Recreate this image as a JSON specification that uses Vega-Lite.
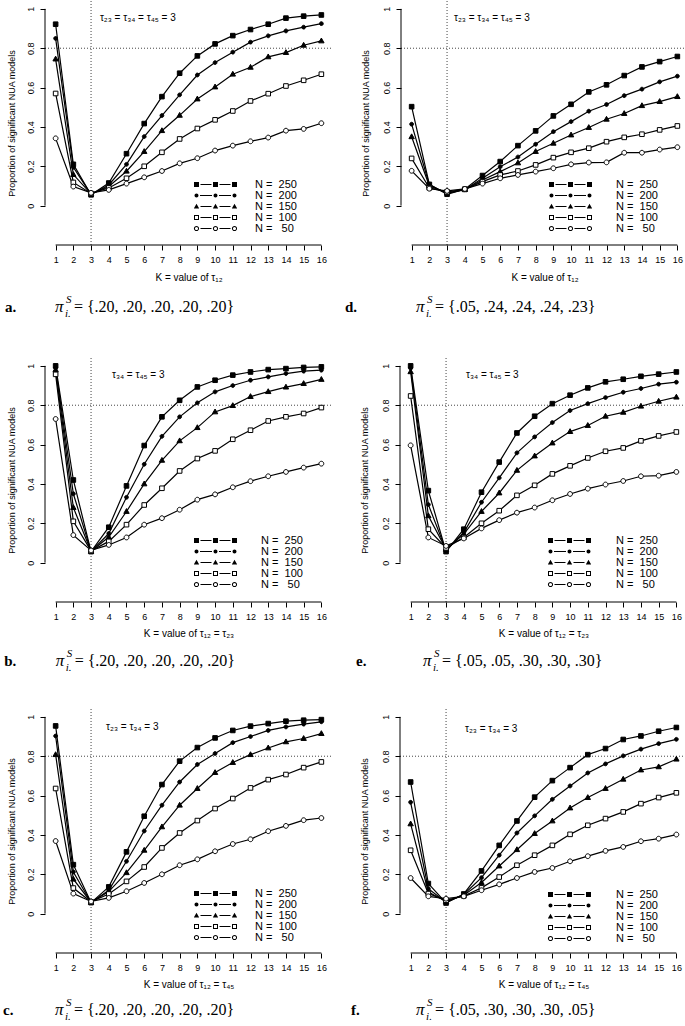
{
"$schema": "https://vega.github.io/schema/vega-lite/v6.json",
"background": "white",
"padding": {"left": 3, "top": 0, "right": 0, "bottom": 0},
"config": {
  "view": {"stroke": null},
  "font": "Liberation Sans",
  "text": {"color": "black"},
  "axis": {"domain": false, "grid": false, "ticks": true, "tickColor": "black", "tickSize": 5, "tickWidth": 1, "labelFont": "Liberation Sans", "labelFontSize": 9, "labelColor": "black", "labelPadding": 5, "titleFont": "Liberation Sans", "titleFontSize": 10, "titleFontWeight": "normal", "titleColor": "black", "labelFlush": false, "labelOverlap": false, "labelBound": false},
  "axisY": {"labelAngle": -90, "labelAlign": "center", "labelBaseline": "bottom", "titleFontSize": 9},
  "legend": {"padding": 0, "offset": 0, "symbolStrokeWidth": 0, "symbolSize": 4, "labelFont": "Liberation Sans", "labelFontSize": 11, "labelColor": "black", "rowPadding": -3, "labelLimit": 0, "title": null}
},
"datasets": {"d": [
{"g":"a","N":250,"K":1,"p":0.922},{"g":"a","N":250,"K":2,"p":0.21},{"g":"a","N":250,"K":3,"p":0.055},{"g":"a","N":250,"K":4,"p":0.115},{"g":"a","N":250,"K":5,"p":0.264},{"g":"a","N":250,"K":6,"p":0.417},{"g":"a","N":250,"K":7,"p":0.554},{"g":"a","N":250,"K":8,"p":0.673},{"g":"a","N":250,"K":9,"p":0.761},{"g":"a","N":250,"K":10,"p":0.822},{"g":"a","N":250,"K":11,"p":0.864},{"g":"a","N":250,"K":12,"p":0.895},{"g":"a","N":250,"K":13,"p":0.922},{"g":"a","N":250,"K":14,"p":0.953},{"g":"a","N":250,"K":15,"p":0.963},{"g":"a","N":250,"K":16,"p":0.969},
{"g":"a","N":200,"K":1,"p":0.85},{"g":"a","N":200,"K":2,"p":0.195},{"g":"a","N":200,"K":3,"p":0.057},{"g":"a","N":200,"K":4,"p":0.105},{"g":"a","N":200,"K":5,"p":0.21},{"g":"a","N":200,"K":6,"p":0.351},{"g":"a","N":200,"K":7,"p":0.458},{"g":"a","N":200,"K":8,"p":0.563},{"g":"a","N":200,"K":9,"p":0.664},{"g":"a","N":200,"K":10,"p":0.727},{"g":"a","N":200,"K":11,"p":0.78},{"g":"a","N":200,"K":12,"p":0.831},{"g":"a","N":200,"K":13,"p":0.863},{"g":"a","N":200,"K":14,"p":0.888},{"g":"a","N":200,"K":15,"p":0.907},{"g":"a","N":200,"K":16,"p":0.925},
{"g":"a","N":150,"K":1,"p":0.745},{"g":"a","N":150,"K":2,"p":0.158},{"g":"a","N":150,"K":3,"p":0.06},{"g":"a","N":150,"K":4,"p":0.097},{"g":"a","N":150,"K":5,"p":0.175},{"g":"a","N":150,"K":6,"p":0.275},{"g":"a","N":150,"K":7,"p":0.381},{"g":"a","N":150,"K":8,"p":0.459},{"g":"a","N":150,"K":9,"p":0.542},{"g":"a","N":150,"K":10,"p":0.603},{"g":"a","N":150,"K":11,"p":0.668},{"g":"a","N":150,"K":12,"p":0.703},{"g":"a","N":150,"K":13,"p":0.756},{"g":"a","N":150,"K":14,"p":0.778},{"g":"a","N":150,"K":15,"p":0.815},{"g":"a","N":150,"K":16,"p":0.837},
{"g":"a","N":100,"K":1,"p":0.57},{"g":"a","N":100,"K":2,"p":0.118},{"g":"a","N":100,"K":3,"p":0.062},{"g":"a","N":100,"K":4,"p":0.09},{"g":"a","N":100,"K":5,"p":0.139},{"g":"a","N":100,"K":6,"p":0.2},{"g":"a","N":100,"K":7,"p":0.271},{"g":"a","N":100,"K":8,"p":0.339},{"g":"a","N":100,"K":9,"p":0.392},{"g":"a","N":100,"K":10,"p":0.436},{"g":"a","N":100,"K":11,"p":0.481},{"g":"a","N":100,"K":12,"p":0.532},{"g":"a","N":100,"K":13,"p":0.569},{"g":"a","N":100,"K":14,"p":0.608},{"g":"a","N":100,"K":15,"p":0.637},{"g":"a","N":100,"K":16,"p":0.668},
{"g":"a","N":50,"K":1,"p":0.342},{"g":"a","N":50,"K":2,"p":0.097},{"g":"a","N":50,"K":3,"p":0.065},{"g":"a","N":50,"K":4,"p":0.08},{"g":"a","N":50,"K":5,"p":0.112},{"g":"a","N":50,"K":6,"p":0.144},{"g":"a","N":50,"K":7,"p":0.176},{"g":"a","N":50,"K":8,"p":0.215},{"g":"a","N":50,"K":9,"p":0.241},{"g":"a","N":50,"K":10,"p":0.28},{"g":"a","N":50,"K":11,"p":0.305},{"g":"a","N":50,"K":12,"p":0.327},{"g":"a","N":50,"K":13,"p":0.346},{"g":"a","N":50,"K":14,"p":0.381},{"g":"a","N":50,"K":15,"p":0.39},{"g":"a","N":50,"K":16,"p":0.419},
{"g":"d","N":250,"K":1,"p":0.503},{"g":"d","N":250,"K":2,"p":0.108},{"g":"d","N":250,"K":3,"p":0.058},{"g":"d","N":250,"K":4,"p":0.083},{"g":"d","N":250,"K":5,"p":0.153},{"g":"d","N":250,"K":6,"p":0.224},{"g":"d","N":250,"K":7,"p":0.305},{"g":"d","N":250,"K":8,"p":0.38},{"g":"d","N":250,"K":9,"p":0.456},{"g":"d","N":250,"K":10,"p":0.515},{"g":"d","N":250,"K":11,"p":0.578},{"g":"d","N":250,"K":12,"p":0.614},{"g":"d","N":250,"K":13,"p":0.661},{"g":"d","N":250,"K":14,"p":0.705},{"g":"d","N":250,"K":15,"p":0.732},{"g":"d","N":250,"K":16,"p":0.758},
{"g":"d","N":200,"K":1,"p":0.414},{"g":"d","N":200,"K":2,"p":0.106},{"g":"d","N":200,"K":3,"p":0.062},{"g":"d","N":200,"K":4,"p":0.081},{"g":"d","N":200,"K":5,"p":0.139},{"g":"d","N":200,"K":6,"p":0.198},{"g":"d","N":200,"K":7,"p":0.247},{"g":"d","N":200,"K":8,"p":0.312},{"g":"d","N":200,"K":9,"p":0.376},{"g":"d","N":200,"K":10,"p":0.427},{"g":"d","N":200,"K":11,"p":0.48},{"g":"d","N":200,"K":12,"p":0.514},{"g":"d","N":200,"K":13,"p":0.559},{"g":"d","N":200,"K":14,"p":0.592},{"g":"d","N":200,"K":15,"p":0.629},{"g":"d","N":200,"K":16,"p":0.658},
{"g":"d","N":150,"K":1,"p":0.35},{"g":"d","N":150,"K":2,"p":0.1},{"g":"d","N":150,"K":3,"p":0.065},{"g":"d","N":150,"K":4,"p":0.082},{"g":"d","N":150,"K":5,"p":0.13},{"g":"d","N":150,"K":6,"p":0.173},{"g":"d","N":150,"K":7,"p":0.217},{"g":"d","N":150,"K":8,"p":0.275},{"g":"d","N":150,"K":9,"p":0.317},{"g":"d","N":150,"K":10,"p":0.359},{"g":"d","N":150,"K":11,"p":0.397},{"g":"d","N":150,"K":12,"p":0.439},{"g":"d","N":150,"K":13,"p":0.468},{"g":"d","N":150,"K":14,"p":0.508},{"g":"d","N":150,"K":15,"p":0.529},{"g":"d","N":150,"K":16,"p":0.554},
{"g":"d","N":100,"K":1,"p":0.24},{"g":"d","N":100,"K":2,"p":0.09},{"g":"d","N":100,"K":3,"p":0.07},{"g":"d","N":100,"K":4,"p":0.083},{"g":"d","N":100,"K":5,"p":0.122},{"g":"d","N":100,"K":6,"p":0.156},{"g":"d","N":100,"K":7,"p":0.176},{"g":"d","N":100,"K":8,"p":0.207},{"g":"d","N":100,"K":9,"p":0.244},{"g":"d","N":100,"K":10,"p":0.271},{"g":"d","N":100,"K":11,"p":0.292},{"g":"d","N":100,"K":12,"p":0.325},{"g":"d","N":100,"K":13,"p":0.347},{"g":"d","N":100,"K":14,"p":0.363},{"g":"d","N":100,"K":15,"p":0.385},{"g":"d","N":100,"K":16,"p":0.405},
{"g":"d","N":50,"K":1,"p":0.177},{"g":"d","N":50,"K":2,"p":0.086},{"g":"d","N":50,"K":3,"p":0.075},{"g":"d","N":50,"K":4,"p":0.085},{"g":"d","N":50,"K":5,"p":0.112},{"g":"d","N":50,"K":6,"p":0.139},{"g":"d","N":50,"K":7,"p":0.156},{"g":"d","N":50,"K":8,"p":0.173},{"g":"d","N":50,"K":9,"p":0.19},{"g":"d","N":50,"K":10,"p":0.21},{"g":"d","N":50,"K":11,"p":0.219},{"g":"d","N":50,"K":12,"p":0.22},{"g":"d","N":50,"K":13,"p":0.269},{"g":"d","N":50,"K":14,"p":0.269},{"g":"d","N":50,"K":15,"p":0.285},{"g":"d","N":50,"K":16,"p":0.297},
{"g":"b","N":250,"K":1,"p":1.0},{"g":"b","N":250,"K":2,"p":0.42},{"g":"b","N":250,"K":3,"p":0.056},{"g":"b","N":250,"K":4,"p":0.18},{"g":"b","N":250,"K":5,"p":0.39},{"g":"b","N":250,"K":6,"p":0.595},{"g":"b","N":250,"K":7,"p":0.741},{"g":"b","N":250,"K":8,"p":0.825},{"g":"b","N":250,"K":9,"p":0.893},{"g":"b","N":250,"K":10,"p":0.927},{"g":"b","N":250,"K":11,"p":0.953},{"g":"b","N":250,"K":12,"p":0.969},{"g":"b","N":250,"K":13,"p":0.981},{"g":"b","N":250,"K":14,"p":0.986},{"g":"b","N":250,"K":15,"p":0.992},{"g":"b","N":250,"K":16,"p":0.995},
{"g":"b","N":200,"K":1,"p":0.99},{"g":"b","N":200,"K":2,"p":0.35},{"g":"b","N":200,"K":3,"p":0.057},{"g":"b","N":200,"K":4,"p":0.148},{"g":"b","N":200,"K":5,"p":0.332},{"g":"b","N":200,"K":6,"p":0.5},{"g":"b","N":200,"K":7,"p":0.642},{"g":"b","N":200,"K":8,"p":0.741},{"g":"b","N":200,"K":9,"p":0.812},{"g":"b","N":200,"K":10,"p":0.868},{"g":"b","N":200,"K":11,"p":0.9},{"g":"b","N":200,"K":12,"p":0.927},{"g":"b","N":200,"K":13,"p":0.944},{"g":"b","N":200,"K":14,"p":0.961},{"g":"b","N":200,"K":15,"p":0.973},{"g":"b","N":200,"K":16,"p":0.978},
{"g":"b","N":150,"K":1,"p":0.98},{"g":"b","N":150,"K":2,"p":0.28},{"g":"b","N":150,"K":3,"p":0.058},{"g":"b","N":150,"K":4,"p":0.13},{"g":"b","N":150,"K":5,"p":0.26},{"g":"b","N":150,"K":6,"p":0.4},{"g":"b","N":150,"K":7,"p":0.52},{"g":"b","N":150,"K":8,"p":0.619},{"g":"b","N":150,"K":9,"p":0.686},{"g":"b","N":150,"K":10,"p":0.766},{"g":"b","N":150,"K":11,"p":0.798},{"g":"b","N":150,"K":12,"p":0.844},{"g":"b","N":150,"K":13,"p":0.869},{"g":"b","N":150,"K":14,"p":0.892},{"g":"b","N":150,"K":15,"p":0.91},{"g":"b","N":150,"K":16,"p":0.931},
{"g":"b","N":100,"K":1,"p":0.957},{"g":"b","N":100,"K":2,"p":0.21},{"g":"b","N":100,"K":3,"p":0.06},{"g":"b","N":100,"K":4,"p":0.108},{"g":"b","N":100,"K":5,"p":0.193},{"g":"b","N":100,"K":6,"p":0.293},{"g":"b","N":100,"K":7,"p":0.378},{"g":"b","N":100,"K":8,"p":0.466},{"g":"b","N":100,"K":9,"p":0.529},{"g":"b","N":100,"K":10,"p":0.568},{"g":"b","N":100,"K":11,"p":0.627},{"g":"b","N":100,"K":12,"p":0.673},{"g":"b","N":100,"K":13,"p":0.72},{"g":"b","N":100,"K":14,"p":0.741},{"g":"b","N":100,"K":15,"p":0.758},{"g":"b","N":100,"K":16,"p":0.788},
{"g":"b","N":50,"K":1,"p":0.73},{"g":"b","N":50,"K":2,"p":0.14},{"g":"b","N":50,"K":3,"p":0.062},{"g":"b","N":50,"K":4,"p":0.09},{"g":"b","N":50,"K":5,"p":0.128},{"g":"b","N":50,"K":6,"p":0.193},{"g":"b","N":50,"K":7,"p":0.226},{"g":"b","N":50,"K":8,"p":0.269},{"g":"b","N":50,"K":9,"p":0.32},{"g":"b","N":50,"K":10,"p":0.347},{"g":"b","N":50,"K":11,"p":0.383},{"g":"b","N":50,"K":12,"p":0.414},{"g":"b","N":50,"K":13,"p":0.439},{"g":"b","N":50,"K":14,"p":0.461},{"g":"b","N":50,"K":15,"p":0.483},{"g":"b","N":50,"K":16,"p":0.503},
{"g":"e","N":250,"K":1,"p":1.0},{"g":"e","N":250,"K":2,"p":0.366},{"g":"e","N":250,"K":3,"p":0.056},{"g":"e","N":250,"K":4,"p":0.17},{"g":"e","N":250,"K":5,"p":0.358},{"g":"e","N":250,"K":6,"p":0.511},{"g":"e","N":250,"K":7,"p":0.659},{"g":"e","N":250,"K":8,"p":0.744},{"g":"e","N":250,"K":9,"p":0.808},{"g":"e","N":250,"K":10,"p":0.851},{"g":"e","N":250,"K":11,"p":0.888},{"g":"e","N":250,"K":12,"p":0.919},{"g":"e","N":250,"K":13,"p":0.932},{"g":"e","N":250,"K":14,"p":0.947},{"g":"e","N":250,"K":15,"p":0.958},{"g":"e","N":250,"K":16,"p":0.969},
{"g":"e","N":200,"K":1,"p":0.988},{"g":"e","N":200,"K":2,"p":0.295},{"g":"e","N":200,"K":3,"p":0.062},{"g":"e","N":200,"K":4,"p":0.153},{"g":"e","N":200,"K":5,"p":0.307},{"g":"e","N":200,"K":6,"p":0.431},{"g":"e","N":200,"K":7,"p":0.558},{"g":"e","N":200,"K":8,"p":0.639},{"g":"e","N":200,"K":9,"p":0.712},{"g":"e","N":200,"K":10,"p":0.773},{"g":"e","N":200,"K":11,"p":0.808},{"g":"e","N":200,"K":12,"p":0.839},{"g":"e","N":200,"K":13,"p":0.866},{"g":"e","N":200,"K":14,"p":0.885},{"g":"e","N":200,"K":15,"p":0.907},{"g":"e","N":200,"K":16,"p":0.917},
{"g":"e","N":150,"K":1,"p":0.97},{"g":"e","N":150,"K":2,"p":0.238},{"g":"e","N":150,"K":3,"p":0.068},{"g":"e","N":150,"K":4,"p":0.145},{"g":"e","N":150,"K":5,"p":0.26},{"g":"e","N":150,"K":6,"p":0.354},{"g":"e","N":150,"K":7,"p":0.469},{"g":"e","N":150,"K":8,"p":0.542},{"g":"e","N":150,"K":9,"p":0.608},{"g":"e","N":150,"K":10,"p":0.666},{"g":"e","N":150,"K":11,"p":0.697},{"g":"e","N":150,"K":12,"p":0.744},{"g":"e","N":150,"K":13,"p":0.764},{"g":"e","N":150,"K":14,"p":0.795},{"g":"e","N":150,"K":15,"p":0.82},{"g":"e","N":150,"K":16,"p":0.841},
{"g":"e","N":100,"K":1,"p":0.847},{"g":"e","N":100,"K":2,"p":0.17},{"g":"e","N":100,"K":3,"p":0.075},{"g":"e","N":100,"K":4,"p":0.128},{"g":"e","N":100,"K":5,"p":0.2},{"g":"e","N":100,"K":6,"p":0.264},{"g":"e","N":100,"K":7,"p":0.342},{"g":"e","N":100,"K":8,"p":0.393},{"g":"e","N":100,"K":9,"p":0.451},{"g":"e","N":100,"K":10,"p":0.492},{"g":"e","N":100,"K":11,"p":0.532},{"g":"e","N":100,"K":12,"p":0.566},{"g":"e","N":100,"K":13,"p":0.583},{"g":"e","N":100,"K":14,"p":0.619},{"g":"e","N":100,"K":15,"p":0.644},{"g":"e","N":100,"K":16,"p":0.664},
{"g":"e","N":50,"K":1,"p":0.596},{"g":"e","N":50,"K":2,"p":0.128},{"g":"e","N":50,"K":3,"p":0.085},{"g":"e","N":50,"K":4,"p":0.123},{"g":"e","N":50,"K":5,"p":0.174},{"g":"e","N":50,"K":6,"p":0.216},{"g":"e","N":50,"K":7,"p":0.254},{"g":"e","N":50,"K":8,"p":0.28},{"g":"e","N":50,"K":9,"p":0.317},{"g":"e","N":50,"K":10,"p":0.349},{"g":"e","N":50,"K":11,"p":0.376},{"g":"e","N":50,"K":12,"p":0.397},{"g":"e","N":50,"K":13,"p":0.415},{"g":"e","N":50,"K":14,"p":0.439},{"g":"e","N":50,"K":15,"p":0.442},{"g":"e","N":50,"K":16,"p":0.461},
{"g":"c","N":250,"K":1,"p":0.954},{"g":"c","N":250,"K":2,"p":0.249},{"g":"c","N":250,"K":3,"p":0.056},{"g":"c","N":250,"K":4,"p":0.136},{"g":"c","N":250,"K":5,"p":0.314},{"g":"c","N":250,"K":6,"p":0.495},{"g":"c","N":250,"K":7,"p":0.656},{"g":"c","N":250,"K":8,"p":0.775},{"g":"c","N":250,"K":9,"p":0.844},{"g":"c","N":250,"K":10,"p":0.893},{"g":"c","N":250,"K":11,"p":0.931},{"g":"c","N":250,"K":12,"p":0.953},{"g":"c","N":250,"K":13,"p":0.966},{"g":"c","N":250,"K":14,"p":0.978},{"g":"c","N":250,"K":15,"p":0.983},{"g":"c","N":250,"K":16,"p":0.986},
{"g":"c","N":200,"K":1,"p":0.903},{"g":"c","N":200,"K":2,"p":0.212},{"g":"c","N":200,"K":3,"p":0.057},{"g":"c","N":200,"K":4,"p":0.119},{"g":"c","N":200,"K":5,"p":0.266},{"g":"c","N":200,"K":6,"p":0.42},{"g":"c","N":200,"K":7,"p":0.551},{"g":"c","N":200,"K":8,"p":0.669},{"g":"c","N":200,"K":9,"p":0.758},{"g":"c","N":200,"K":10,"p":0.814},{"g":"c","N":200,"K":11,"p":0.869},{"g":"c","N":200,"K":12,"p":0.9},{"g":"c","N":200,"K":13,"p":0.931},{"g":"c","N":200,"K":14,"p":0.949},{"g":"c","N":200,"K":15,"p":0.963},{"g":"c","N":200,"K":16,"p":0.975},
{"g":"c","N":150,"K":1,"p":0.808},{"g":"c","N":150,"K":2,"p":0.175},{"g":"c","N":150,"K":3,"p":0.058},{"g":"c","N":150,"K":4,"p":0.112},{"g":"c","N":150,"K":5,"p":0.208},{"g":"c","N":150,"K":6,"p":0.322},{"g":"c","N":150,"K":7,"p":0.441},{"g":"c","N":150,"K":8,"p":0.551},{"g":"c","N":150,"K":9,"p":0.636},{"g":"c","N":150,"K":10,"p":0.717},{"g":"c","N":150,"K":11,"p":0.768},{"g":"c","N":150,"K":12,"p":0.808},{"g":"c","N":150,"K":13,"p":0.842},{"g":"c","N":150,"K":14,"p":0.873},{"g":"c","N":150,"K":15,"p":0.89},{"g":"c","N":150,"K":16,"p":0.915},
{"g":"c","N":100,"K":1,"p":0.636},{"g":"c","N":100,"K":2,"p":0.13},{"g":"c","N":100,"K":3,"p":0.06},{"g":"c","N":100,"K":4,"p":0.1},{"g":"c","N":100,"K":5,"p":0.164},{"g":"c","N":100,"K":6,"p":0.237},{"g":"c","N":100,"K":7,"p":0.334},{"g":"c","N":100,"K":8,"p":0.41},{"g":"c","N":100,"K":9,"p":0.473},{"g":"c","N":100,"K":10,"p":0.534},{"g":"c","N":100,"K":11,"p":0.585},{"g":"c","N":100,"K":12,"p":0.639},{"g":"c","N":100,"K":13,"p":0.681},{"g":"c","N":100,"K":14,"p":0.707},{"g":"c","N":100,"K":15,"p":0.742},{"g":"c","N":100,"K":16,"p":0.771},
{"g":"c","N":50,"K":1,"p":0.369},{"g":"c","N":50,"K":2,"p":0.102},{"g":"c","N":50,"K":3,"p":0.062},{"g":"c","N":50,"K":4,"p":0.08},{"g":"c","N":50,"K":5,"p":0.114},{"g":"c","N":50,"K":6,"p":0.156},{"g":"c","N":50,"K":7,"p":0.2},{"g":"c","N":50,"K":8,"p":0.246},{"g":"c","N":50,"K":9,"p":0.276},{"g":"c","N":50,"K":10,"p":0.317},{"g":"c","N":50,"K":11,"p":0.354},{"g":"c","N":50,"K":12,"p":0.378},{"g":"c","N":50,"K":13,"p":0.419},{"g":"c","N":50,"K":14,"p":0.446},{"g":"c","N":50,"K":15,"p":0.475},{"g":"c","N":50,"K":16,"p":0.486},
{"g":"f","N":250,"K":1,"p":0.669},{"g":"f","N":250,"K":2,"p":0.153},{"g":"f","N":250,"K":3,"p":0.054},{"g":"f","N":250,"K":4,"p":0.1},{"g":"f","N":250,"K":5,"p":0.217},{"g":"f","N":250,"K":6,"p":0.347},{"g":"f","N":250,"K":7,"p":0.471},{"g":"f","N":250,"K":8,"p":0.592},{"g":"f","N":250,"K":9,"p":0.676},{"g":"f","N":250,"K":10,"p":0.742},{"g":"f","N":250,"K":11,"p":0.808},{"g":"f","N":250,"K":12,"p":0.839},{"g":"f","N":250,"K":13,"p":0.885},{"g":"f","N":250,"K":14,"p":0.903},{"g":"f","N":250,"K":15,"p":0.927},{"g":"f","N":250,"K":16,"p":0.946},
{"g":"f","N":200,"K":1,"p":0.566},{"g":"f","N":200,"K":2,"p":0.127},{"g":"f","N":200,"K":3,"p":0.058},{"g":"f","N":200,"K":4,"p":0.097},{"g":"f","N":200,"K":5,"p":0.183},{"g":"f","N":200,"K":6,"p":0.297},{"g":"f","N":200,"K":7,"p":0.41},{"g":"f","N":200,"K":8,"p":0.497},{"g":"f","N":200,"K":9,"p":0.581},{"g":"f","N":200,"K":10,"p":0.649},{"g":"f","N":200,"K":11,"p":0.715},{"g":"f","N":200,"K":12,"p":0.761},{"g":"f","N":200,"K":13,"p":0.802},{"g":"f","N":200,"K":14,"p":0.836},{"g":"f","N":200,"K":15,"p":0.864},{"g":"f","N":200,"K":16,"p":0.886},
{"g":"f","N":150,"K":1,"p":0.456},{"g":"f","N":150,"K":2,"p":0.11},{"g":"f","N":150,"K":3,"p":0.062},{"g":"f","N":150,"K":4,"p":0.094},{"g":"f","N":150,"K":5,"p":0.158},{"g":"f","N":150,"K":6,"p":0.242},{"g":"f","N":150,"K":7,"p":0.325},{"g":"f","N":150,"K":8,"p":0.407},{"g":"f","N":150,"K":9,"p":0.471},{"g":"f","N":150,"K":10,"p":0.537},{"g":"f","N":150,"K":11,"p":0.59},{"g":"f","N":150,"K":12,"p":0.636},{"g":"f","N":150,"K":13,"p":0.683},{"g":"f","N":150,"K":14,"p":0.73},{"g":"f","N":150,"K":15,"p":0.746},{"g":"f","N":150,"K":16,"p":0.785},
{"g":"f","N":100,"K":1,"p":0.322},{"g":"f","N":100,"K":2,"p":0.102},{"g":"f","N":100,"K":3,"p":0.068},{"g":"f","N":100,"K":4,"p":0.09},{"g":"f","N":100,"K":5,"p":0.131},{"g":"f","N":100,"K":6,"p":0.186},{"g":"f","N":100,"K":7,"p":0.246},{"g":"f","N":100,"K":8,"p":0.297},{"g":"f","N":100,"K":9,"p":0.347},{"g":"f","N":100,"K":10,"p":0.403},{"g":"f","N":100,"K":11,"p":0.449},{"g":"f","N":100,"K":12,"p":0.483},{"g":"f","N":100,"K":13,"p":0.517},{"g":"f","N":100,"K":14,"p":0.559},{"g":"f","N":100,"K":15,"p":0.59},{"g":"f","N":100,"K":16,"p":0.614},
{"g":"f","N":50,"K":1,"p":0.181},{"g":"f","N":50,"K":2,"p":0.088},{"g":"f","N":50,"K":3,"p":0.076},{"g":"f","N":50,"K":4,"p":0.088},{"g":"f","N":50,"K":5,"p":0.119},{"g":"f","N":50,"K":6,"p":0.149},{"g":"f","N":50,"K":7,"p":0.181},{"g":"f","N":50,"K":8,"p":0.212},{"g":"f","N":50,"K":9,"p":0.232},{"g":"f","N":50,"K":10,"p":0.266},{"g":"f","N":50,"K":11,"p":0.292},{"g":"f","N":50,"K":12,"p":0.319},{"g":"f","N":50,"K":13,"p":0.339},{"g":"f","N":50,"K":14,"p":0.368},{"g":"f","N":50,"K":15,"p":0.381},{"g":"f","N":50,"K":16,"p":0.402}
]},
"spacing": 38,
"vconcat": [
{"hconcat": [
{"width": 287, "height": 244, "resolve": {"scale": {"shape": "independent"}}, "layer": [
 {"data": {"values": [{}]}, "mark": {"type": "rule", "color": "#444", "strokeWidth": 1, "strokeDash": [1, 2]}, "encoding": {"x": {"datum": 3, "type": "quantitative", "scale": {"domain": [0.4, 16.6], "nice": false, "zero": false}, "axis": {"title": "K = value of τ₁₂", "values": [1,2,3,4,5,6,7,8,9,10,11,12,13,14,15,16], "tickCount": 20, "labelOverlap": false, "titlePadding": 8}}, "y": {"datum": -0.2, "type": "quantitative", "scale": {"domain": [-0.2, 1.04], "nice": false, "zero": false}, "axis": {"title": "Proportion of significant NUA models", "values": [0,0.2,0.4,0.6,0.8,1], "tickCount": 10, "format": "~g", "titlePadding": 10}}, "y2": {"datum": 1.04}}},
 {"data": {"values": [{}]}, "mark": {"type": "rule", "color": "#444", "strokeWidth": 1, "strokeDash": [1, 2]}, "encoding": {"y": {"datum": 0.8}, "x": {"datum": 0.4}, "x2": {"datum": 16.6}}},
 {"data": {"values": [{}]}, "mark": {"type": "rule", "color": "black", "strokeWidth": 1}, "encoding": {"x": {"datum": 1}, "x2": {"datum": 16}, "y": {"datum": -0.2}}},
 {"data": {"values": [{}]}, "mark": {"type": "rule", "color": "black", "strokeWidth": 1}, "encoding": {"x": {"datum": 0.4}, "y": {"datum": 0}, "y2": {"datum": 1}}},
 {"data": {"values": [{}]}, "mark": {"type": "text", "text": "τ₂₃ = τ₃₄ = τ₄₅ = 3", "align": "left", "baseline": "middle", "fontSize": 10}, "encoding": {"x": {"datum": 3.5}, "y": {"datum": 0.954}}},
 {"data": {"name": "d"}, "transform": [{"filter": "datum.g == 'a'"}], "mark": {"type": "line", "color": "black", "strokeWidth": 1.2}, "encoding": {"x": {"field": "K", "type": "quantitative"}, "y": {"field": "p", "type": "quantitative"}, "detail": {"field": "N", "type": "nominal"}}},
 {"data": {"name": "d"}, "transform": [{"filter": "datum.g == 'a'"}], "mark": {"type": "point", "filled": true, "size": 4, "stroke": "black", "strokeWidth": 1, "opacity": 1}, "encoding": {"x": {"field": "K", "type": "quantitative"}, "y": {"field": "p", "type": "quantitative"}, "shape": {"field": "N", "type": "nominal", "legend": null, "scale": {"domain": [250,200,150,100,50], "range": ["M-2.3,-2.3H2.3V2.3H-2.3Z", "M1.9,0A1.9,1.9,0,1,1,-1.9,0A1.9,1.9,0,1,1,1.9,0Z", "M0,-2.9L2.7,1.9L-2.7,1.9Z", "M-2.3,-2.3H2.3V2.3H-2.3Z", "M2.4,0A2.4,2.4,0,1,1,-2.4,0A2.4,2.4,0,1,1,2.4,0Z"]}}, "fill": {"field": "N", "type": "nominal", "legend": null, "scale": {"domain": [250,200,150,100,50], "range": ["black","black","black","white","white"]}}}},
 {"data": {"name": "d"}, "transform": [{"filter": "false"}], "mark": {"type": "point", "filled": true, "size": 4, "color": "black", "strokeWidth": 0, "opacity": 1}, "encoding": {"x": {"field": "K", "type": "quantitative"}, "y": {"field": "p", "type": "quantitative"}, "shape": {"field": "N", "type": "nominal", "scale": {"domain": [250,200,150,100,50], "range": [
   "M-21.5,-2.5H-16.5V2.5H-21.5Z M-2.5,-2.5H2.5V2.5H-2.5Z M16.5,-2.5H21.5V2.5H16.5Z M-15,-0.5H-4V0.5H-15Z M4,-0.5H15V0.5H4Z",
   "M-17,0A2,2,0,1,1,-21,0A2,2,0,1,1,-17,0Z M2,0A2,2,0,1,1,-2,0A2,2,0,1,1,2,0Z M21,0A2,2,0,1,1,17,0A2,2,0,1,1,21,0Z M-15.5,-0.5H-3.5V0.5H-15.5Z M3.5,-0.5H15.5V0.5H3.5Z",
   "M-19,-2.8L-16.3,2L-21.7,2Z M0,-2.8L2.7,2L-2.7,2Z M19,-2.8L21.7,2L16.3,2Z M-15,-0.5H-4V0.5H-15Z M4,-0.5H15V0.5H4Z",
   "M-21.5,-2.5H-16.5V2.5H-21.5Z M-20.5,-1.5V1.5H-17.5V-1.5Z M-2.5,-2.5H2.5V2.5H-2.5Z M-1.5,-1.5V1.5H1.5V-1.5Z M16.5,-2.5H21.5V2.5H16.5Z M17.5,-1.5V1.5H20.5V-1.5Z M-15,-0.5H-4V0.5H-15Z M4,-0.5H15V0.5H4Z",
   "M-16.4,0A2.6,2.6,0,1,1,-21.6,0A2.6,2.6,0,1,1,-16.4,0Z M-17.4,0A1.6,1.6,0,1,0,-20.6,0A1.6,1.6,0,1,0,-17.4,0Z M2.6,0A2.6,2.6,0,1,1,-2.6,0A2.6,2.6,0,1,1,2.6,0Z M1.6,0A1.6,1.6,0,1,0,-1.6,0A1.6,1.6,0,1,0,1.6,0Z M21.6,0A2.6,2.6,0,1,1,16.4,0A2.6,2.6,0,1,1,21.6,0Z M20.6,0A1.6,1.6,0,1,0,17.4,0A1.6,1.6,0,1,0,20.6,0Z M-15,-0.5H-4V0.5H-15Z M4,-0.5H15V0.5H4Z"]},
   "legend": {"orient": "none", "legendX": 165, "legendY": 178, "labelOffset": 34, "labelExpr": "'N =\u00a0\u00a0' + (datum.label == '50' ? '\u00a0' : '') + datum.label"}}}},
 {"data": {"values": [{}]}, "mark": {"type": "text", "text": "a.", "align": "left", "baseline": "middle", "font": "Liberation Serif", "fontSize": 15, "fontWeight": "bold"}, "encoding": {"x": {"datum": -1.86}, "y": {"datum": -0.513}}},
 {"data": {"values": [{}]}, "mark": {"type": "text", "text": "π", "align": "left", "baseline": "middle", "font": "Liberation Serif", "fontSize": 17, "fontStyle": "italic"}, "encoding": {"x": {"datum": 0.96}, "y": {"datum": -0.513}}},
 {"data": {"values": [{}]}, "mark": {"type": "text", "text": "S", "align": "left", "baseline": "middle", "font": "Liberation Serif", "fontSize": 11, "fontStyle": "italic", "dx": 11, "dy": -7}, "encoding": {"x": {"datum": 0.96}, "y": {"datum": -0.513}}},
 {"data": {"values": [{}]}, "mark": {"type": "text", "text": "i.", "align": "left", "baseline": "middle", "font": "Liberation Serif", "fontSize": 11, "fontStyle": "italic", "dx": 10, "dy": 7}, "encoding": {"x": {"datum": 0.96}, "y": {"datum": -0.513}}},
 {"data": {"values": [{}]}, "mark": {"type": "text", "text": "= {.20, .20, .20, .20, .20}", "align": "left", "baseline": "middle", "font": "Liberation Serif", "fontSize": 16, "dx": 19}, "encoding": {"x": {"datum": 0.96}, "y": {"datum": -0.513}}}
]},
{"width": 287, "height": 244, "resolve": {"scale": {"shape": "independent"}}, "layer": [
 {"data": {"values": [{}]}, "mark": {"type": "rule", "color": "#444", "strokeWidth": 1, "strokeDash": [1, 2]}, "encoding": {"x": {"datum": 3, "type": "quantitative", "scale": {"domain": [0.4, 16.6], "nice": false, "zero": false}, "axis": {"title": "K = value of τ₁₂", "values": [1,2,3,4,5,6,7,8,9,10,11,12,13,14,15,16], "tickCount": 20, "labelOverlap": false, "titlePadding": 8}}, "y": {"datum": -0.2, "type": "quantitative", "scale": {"domain": [-0.2, 1.04], "nice": false, "zero": false}, "axis": {"title": "Proportion of significant NUA models", "values": [0,0.2,0.4,0.6,0.8,1], "tickCount": 10, "format": "~g", "titlePadding": 12}}, "y2": {"datum": 1.04}}},
 {"data": {"values": [{}]}, "mark": {"type": "rule", "color": "#444", "strokeWidth": 1, "strokeDash": [1, 2]}, "encoding": {"y": {"datum": 0.8}, "x": {"datum": 0.4}, "x2": {"datum": 16.6}}},
 {"data": {"values": [{}]}, "mark": {"type": "rule", "color": "black", "strokeWidth": 1}, "encoding": {"x": {"datum": 1}, "x2": {"datum": 16}, "y": {"datum": -0.2}}},
 {"data": {"values": [{}]}, "mark": {"type": "rule", "color": "black", "strokeWidth": 1}, "encoding": {"x": {"datum": 0.4}, "y": {"datum": 0}, "y2": {"datum": 1}}},
 {"data": {"values": [{}]}, "mark": {"type": "text", "text": "τ₂₃ = τ₃₄ = τ₄₅ = 3", "align": "left", "baseline": "middle", "fontSize": 10}, "encoding": {"x": {"datum": 3.39}, "y": {"datum": 0.954}}},
 {"data": {"name": "d"}, "transform": [{"filter": "datum.g == 'd'"}], "mark": {"type": "line", "color": "black", "strokeWidth": 1.2}, "encoding": {"x": {"field": "K", "type": "quantitative"}, "y": {"field": "p", "type": "quantitative"}, "detail": {"field": "N", "type": "nominal"}}},
 {"data": {"name": "d"}, "transform": [{"filter": "datum.g == 'd'"}], "mark": {"type": "point", "filled": true, "size": 4, "stroke": "black", "strokeWidth": 1, "opacity": 1}, "encoding": {"x": {"field": "K", "type": "quantitative"}, "y": {"field": "p", "type": "quantitative"}, "shape": {"field": "N", "type": "nominal", "legend": null, "scale": {"domain": [250,200,150,100,50], "range": ["M-2.3,-2.3H2.3V2.3H-2.3Z", "M1.9,0A1.9,1.9,0,1,1,-1.9,0A1.9,1.9,0,1,1,1.9,0Z", "M0,-2.9L2.7,1.9L-2.7,1.9Z", "M-2.3,-2.3H2.3V2.3H-2.3Z", "M2.4,0A2.4,2.4,0,1,1,-2.4,0A2.4,2.4,0,1,1,2.4,0Z"]}}, "fill": {"field": "N", "type": "nominal", "legend": null, "scale": {"domain": [250,200,150,100,50], "range": ["black","black","black","white","white"]}}}},
 {"data": {"name": "d"}, "transform": [{"filter": "false"}], "mark": {"type": "point", "filled": true, "size": 4, "color": "black", "strokeWidth": 0, "opacity": 1}, "encoding": {"x": {"field": "K", "type": "quantitative"}, "y": {"field": "p", "type": "quantitative"}, "shape": {"field": "N", "type": "nominal", "scale": {"domain": [250,200,150,100,50], "range": [
   "M-21.5,-2.5H-16.5V2.5H-21.5Z M-2.5,-2.5H2.5V2.5H-2.5Z M16.5,-2.5H21.5V2.5H16.5Z M-15,-0.5H-4V0.5H-15Z M4,-0.5H15V0.5H4Z",
   "M-17,0A2,2,0,1,1,-21,0A2,2,0,1,1,-17,0Z M2,0A2,2,0,1,1,-2,0A2,2,0,1,1,2,0Z M21,0A2,2,0,1,1,17,0A2,2,0,1,1,21,0Z M-15.5,-0.5H-3.5V0.5H-15.5Z M3.5,-0.5H15.5V0.5H3.5Z",
   "M-19,-2.8L-16.3,2L-21.7,2Z M0,-2.8L2.7,2L-2.7,2Z M19,-2.8L21.7,2L16.3,2Z M-15,-0.5H-4V0.5H-15Z M4,-0.5H15V0.5H4Z",
   "M-21.5,-2.5H-16.5V2.5H-21.5Z M-20.5,-1.5V1.5H-17.5V-1.5Z M-2.5,-2.5H2.5V2.5H-2.5Z M-1.5,-1.5V1.5H1.5V-1.5Z M16.5,-2.5H21.5V2.5H16.5Z M17.5,-1.5V1.5H20.5V-1.5Z M-15,-0.5H-4V0.5H-15Z M4,-0.5H15V0.5H4Z",
   "M-16.4,0A2.6,2.6,0,1,1,-21.6,0A2.6,2.6,0,1,1,-16.4,0Z M-17.4,0A1.6,1.6,0,1,0,-20.6,0A1.6,1.6,0,1,0,-17.4,0Z M2.6,0A2.6,2.6,0,1,1,-2.6,0A2.6,2.6,0,1,1,2.6,0Z M1.6,0A1.6,1.6,0,1,0,-1.6,0A1.6,1.6,0,1,0,1.6,0Z M21.6,0A2.6,2.6,0,1,1,16.4,0A2.6,2.6,0,1,1,21.6,0Z M20.6,0A1.6,1.6,0,1,0,17.4,0A1.6,1.6,0,1,0,20.6,0Z M-15,-0.5H-4V0.5H-15Z M4,-0.5H15V0.5H4Z"]},
   "legend": {"orient": "none", "legendX": 164, "legendY": 178, "labelOffset": 40, "labelExpr": "'N =\u00a0\u00a0' + (datum.label == '50' ? '\u00a0' : '') + datum.label"}}}},
 {"data": {"values": [{}]}, "mark": {"type": "text", "text": "d.", "align": "left", "baseline": "middle", "font": "Liberation Serif", "fontSize": 15, "fontWeight": "bold"}, "encoding": {"x": {"datum": -2.76}, "y": {"datum": -0.513}}},
 {"data": {"values": [{}]}, "mark": {"type": "text", "text": "π", "align": "left", "baseline": "middle", "font": "Liberation Serif", "fontSize": 17, "fontStyle": "italic"}, "encoding": {"x": {"datum": 1.25}, "y": {"datum": -0.513}}},
 {"data": {"values": [{}]}, "mark": {"type": "text", "text": "S", "align": "left", "baseline": "middle", "font": "Liberation Serif", "fontSize": 11, "fontStyle": "italic", "dx": 11, "dy": -7}, "encoding": {"x": {"datum": 1.25}, "y": {"datum": -0.513}}},
 {"data": {"values": [{}]}, "mark": {"type": "text", "text": "i.", "align": "left", "baseline": "middle", "font": "Liberation Serif", "fontSize": 11, "fontStyle": "italic", "dx": 10, "dy": 7}, "encoding": {"x": {"datum": 1.25}, "y": {"datum": -0.513}}},
 {"data": {"values": [{}]}, "mark": {"type": "text", "text": "= {.05, .24, .24, .24, .23}", "align": "left", "baseline": "middle", "font": "Liberation Serif", "fontSize": 16, "dx": 19}, "encoding": {"x": {"datum": 1.25}, "y": {"datum": -0.513}}}
]}
], "spacing": 12},
{"spacing": 34, "vconcat": [
{"hconcat": [
{"width": 287, "height": 244, "resolve": {"scale": {"shape": "independent"}}, "layer": [
 {"data": {"values": [{}]}, "mark": {"type": "rule", "color": "#444", "strokeWidth": 1, "strokeDash": [1, 2]}, "encoding": {"x": {"datum": 3, "type": "quantitative", "scale": {"domain": [0.4, 16.6], "nice": false, "zero": false}, "axis": {"title": "K = value of τ₁₂ = τ₂₃", "values": [1,2,3,4,5,6,7,8,9,10,11,12,13,14,15,16], "tickCount": 20, "labelOverlap": false, "titlePadding": 7}}, "y": {"datum": -0.2, "type": "quantitative", "scale": {"domain": [-0.2, 1.04], "nice": false, "zero": false}, "axis": {"title": "Proportion of significant NUA models", "values": [0,0.2,0.4,0.6,0.8,1], "tickCount": 10, "format": "~g", "titlePadding": 10}}, "y2": {"datum": 1.04}}},
 {"data": {"values": [{}]}, "mark": {"type": "rule", "color": "#444", "strokeWidth": 1, "strokeDash": [1, 2]}, "encoding": {"y": {"datum": 0.8}, "x": {"datum": 0.4}, "x2": {"datum": 16.6}}},
 {"data": {"values": [{}]}, "mark": {"type": "rule", "color": "black", "strokeWidth": 1}, "encoding": {"x": {"datum": 1}, "x2": {"datum": 16}, "y": {"datum": -0.2}}},
 {"data": {"values": [{}]}, "mark": {"type": "rule", "color": "black", "strokeWidth": 1}, "encoding": {"x": {"datum": 0.4}, "y": {"datum": 0}, "y2": {"datum": 1}}},
 {"data": {"values": [{}]}, "mark": {"type": "text", "text": "τ₃₄ = τ₄₅ = 3", "align": "left", "baseline": "middle", "fontSize": 10}, "encoding": {"x": {"datum": 4.18}, "y": {"datum": 0.954}}},
 {"data": {"name": "d"}, "transform": [{"filter": "datum.g == 'b'"}], "mark": {"type": "line", "color": "black", "strokeWidth": 1.2}, "encoding": {"x": {"field": "K", "type": "quantitative"}, "y": {"field": "p", "type": "quantitative"}, "detail": {"field": "N", "type": "nominal"}}},
 {"data": {"name": "d"}, "transform": [{"filter": "datum.g == 'b'"}], "mark": {"type": "point", "filled": true, "size": 4, "stroke": "black", "strokeWidth": 1, "opacity": 1}, "encoding": {"x": {"field": "K", "type": "quantitative"}, "y": {"field": "p", "type": "quantitative"}, "shape": {"field": "N", "type": "nominal", "legend": null, "scale": {"domain": [250,200,150,100,50], "range": ["M-2.3,-2.3H2.3V2.3H-2.3Z", "M1.9,0A1.9,1.9,0,1,1,-1.9,0A1.9,1.9,0,1,1,1.9,0Z", "M0,-2.9L2.7,1.9L-2.7,1.9Z", "M-2.3,-2.3H2.3V2.3H-2.3Z", "M2.4,0A2.4,2.4,0,1,1,-2.4,0A2.4,2.4,0,1,1,2.4,0Z"]}}, "fill": {"field": "N", "type": "nominal", "legend": null, "scale": {"domain": [250,200,150,100,50], "range": ["black","black","black","white","white"]}}}},
 {"data": {"name": "d"}, "transform": [{"filter": "false"}], "mark": {"type": "point", "filled": true, "size": 4, "color": "black", "strokeWidth": 0, "opacity": 1}, "encoding": {"x": {"field": "K", "type": "quantitative"}, "y": {"field": "p", "type": "quantitative"}, "shape": {"field": "N", "type": "nominal", "scale": {"domain": [250,200,150,100,50], "range": [
   "M-21.5,-2.5H-16.5V2.5H-21.5Z M-2.5,-2.5H2.5V2.5H-2.5Z M16.5,-2.5H21.5V2.5H16.5Z M-15,-0.5H-4V0.5H-15Z M4,-0.5H15V0.5H4Z",
   "M-17,0A2,2,0,1,1,-21,0A2,2,0,1,1,-17,0Z M2,0A2,2,0,1,1,-2,0A2,2,0,1,1,2,0Z M21,0A2,2,0,1,1,17,0A2,2,0,1,1,21,0Z M-15.5,-0.5H-3.5V0.5H-15.5Z M3.5,-0.5H15.5V0.5H3.5Z",
   "M-19,-2.8L-16.3,2L-21.7,2Z M0,-2.8L2.7,2L-2.7,2Z M19,-2.8L21.7,2L16.3,2Z M-15,-0.5H-4V0.5H-15Z M4,-0.5H15V0.5H4Z",
   "M-21.5,-2.5H-16.5V2.5H-21.5Z M-20.5,-1.5V1.5H-17.5V-1.5Z M-2.5,-2.5H2.5V2.5H-2.5Z M-1.5,-1.5V1.5H1.5V-1.5Z M16.5,-2.5H21.5V2.5H16.5Z M17.5,-1.5V1.5H20.5V-1.5Z M-15,-0.5H-4V0.5H-15Z M4,-0.5H15V0.5H4Z",
   "M-16.4,0A2.6,2.6,0,1,1,-21.6,0A2.6,2.6,0,1,1,-16.4,0Z M-17.4,0A1.6,1.6,0,1,0,-20.6,0A1.6,1.6,0,1,0,-17.4,0Z M2.6,0A2.6,2.6,0,1,1,-2.6,0A2.6,2.6,0,1,1,2.6,0Z M1.6,0A1.6,1.6,0,1,0,-1.6,0A1.6,1.6,0,1,0,1.6,0Z M21.6,0A2.6,2.6,0,1,1,16.4,0A2.6,2.6,0,1,1,21.6,0Z M20.6,0A1.6,1.6,0,1,0,17.4,0A1.6,1.6,0,1,0,20.6,0Z M-15,-0.5H-4V0.5H-15Z M4,-0.5H15V0.5H4Z"]},
   "legend": {"orient": "none", "legendX": 165, "legendY": 177, "labelOffset": 40, "labelExpr": "'N =\u00a0\u00a0' + (datum.label == '50' ? '\u00a0' : '') + datum.label"}}}},
 {"data": {"values": [{}]}, "mark": {"type": "text", "text": "b.", "align": "left", "baseline": "middle", "font": "Liberation Serif", "fontSize": 15, "fontWeight": "bold"}, "encoding": {"x": {"datum": -1.9}, "y": {"datum": -0.5}}},
 {"data": {"values": [{}]}, "mark": {"type": "text", "text": "π", "align": "left", "baseline": "middle", "font": "Liberation Serif", "fontSize": 17, "fontStyle": "italic"}, "encoding": {"x": {"datum": 1.0}, "y": {"datum": -0.5}}},
 {"data": {"values": [{}]}, "mark": {"type": "text", "text": "S", "align": "left", "baseline": "middle", "font": "Liberation Serif", "fontSize": 11, "fontStyle": "italic", "dx": 11, "dy": -7}, "encoding": {"x": {"datum": 1.0}, "y": {"datum": -0.5}}},
 {"data": {"values": [{}]}, "mark": {"type": "text", "text": "i.", "align": "left", "baseline": "middle", "font": "Liberation Serif", "fontSize": 11, "fontStyle": "italic", "dx": 10, "dy": 7}, "encoding": {"x": {"datum": 1.0}, "y": {"datum": -0.5}}},
 {"data": {"values": [{}]}, "mark": {"type": "text", "text": "= {.20, .20, .20, .20, .20}", "align": "left", "baseline": "middle", "font": "Liberation Serif", "fontSize": 16, "dx": 19}, "encoding": {"x": {"datum": 1.0}, "y": {"datum": -0.5}}}
]},
{"width": 287, "height": 244, "resolve": {"scale": {"shape": "independent"}}, "layer": [
 {"data": {"values": [{}]}, "mark": {"type": "rule", "color": "#444", "strokeWidth": 1, "strokeDash": [1, 2]}, "encoding": {"x": {"datum": 3, "type": "quantitative", "scale": {"domain": [0.4, 16.6], "nice": false, "zero": false}, "axis": {"title": "K = value of τ₁₂ = τ₂₃", "values": [1,2,3,4,5,6,7,8,9,10,11,12,13,14,15,16], "tickCount": 20, "labelOverlap": false, "titlePadding": 7}}, "y": {"datum": -0.2, "type": "quantitative", "scale": {"domain": [-0.2, 1.04], "nice": false, "zero": false}, "axis": {"title": "Proportion of significant NUA models", "values": [0,0.2,0.4,0.6,0.8,1], "tickCount": 10, "format": "~g", "titlePadding": 12}}, "y2": {"datum": 1.04}}},
 {"data": {"values": [{}]}, "mark": {"type": "rule", "color": "#444", "strokeWidth": 1, "strokeDash": [1, 2]}, "encoding": {"y": {"datum": 0.8}, "x": {"datum": 0.4}, "x2": {"datum": 16.6}}},
 {"data": {"values": [{}]}, "mark": {"type": "rule", "color": "black", "strokeWidth": 1}, "encoding": {"x": {"datum": 1}, "x2": {"datum": 16}, "y": {"datum": -0.2}}},
 {"data": {"values": [{}]}, "mark": {"type": "rule", "color": "black", "strokeWidth": 1}, "encoding": {"x": {"datum": 0.4}, "y": {"datum": 0}, "y2": {"datum": 1}}},
 {"data": {"values": [{}]}, "mark": {"type": "text", "text": "τ₃₄ = τ₄₅ = 3", "align": "left", "baseline": "middle", "fontSize": 10}, "encoding": {"x": {"datum": 4.13}, "y": {"datum": 0.954}}},
 {"data": {"name": "d"}, "transform": [{"filter": "datum.g == 'e'"}], "mark": {"type": "line", "color": "black", "strokeWidth": 1.2}, "encoding": {"x": {"field": "K", "type": "quantitative"}, "y": {"field": "p", "type": "quantitative"}, "detail": {"field": "N", "type": "nominal"}}},
 {"data": {"name": "d"}, "transform": [{"filter": "datum.g == 'e'"}], "mark": {"type": "point", "filled": true, "size": 4, "stroke": "black", "strokeWidth": 1, "opacity": 1}, "encoding": {"x": {"field": "K", "type": "quantitative"}, "y": {"field": "p", "type": "quantitative"}, "shape": {"field": "N", "type": "nominal", "legend": null, "scale": {"domain": [250,200,150,100,50], "range": ["M-2.3,-2.3H2.3V2.3H-2.3Z", "M1.9,0A1.9,1.9,0,1,1,-1.9,0A1.9,1.9,0,1,1,1.9,0Z", "M0,-2.9L2.7,1.9L-2.7,1.9Z", "M-2.3,-2.3H2.3V2.3H-2.3Z", "M2.4,0A2.4,2.4,0,1,1,-2.4,0A2.4,2.4,0,1,1,2.4,0Z"]}}, "fill": {"field": "N", "type": "nominal", "legend": null, "scale": {"domain": [250,200,150,100,50], "range": ["black","black","black","white","white"]}}}},
 {"data": {"name": "d"}, "transform": [{"filter": "false"}], "mark": {"type": "point", "filled": true, "size": 4, "color": "black", "strokeWidth": 0, "opacity": 1}, "encoding": {"x": {"field": "K", "type": "quantitative"}, "y": {"field": "p", "type": "quantitative"}, "shape": {"field": "N", "type": "nominal", "scale": {"domain": [250,200,150,100,50], "range": [
   "M-21.5,-2.5H-16.5V2.5H-21.5Z M-2.5,-2.5H2.5V2.5H-2.5Z M16.5,-2.5H21.5V2.5H16.5Z M-15,-0.5H-4V0.5H-15Z M4,-0.5H15V0.5H4Z",
   "M-17,0A2,2,0,1,1,-21,0A2,2,0,1,1,-17,0Z M2,0A2,2,0,1,1,-2,0A2,2,0,1,1,2,0Z M21,0A2,2,0,1,1,17,0A2,2,0,1,1,21,0Z M-15.5,-0.5H-3.5V0.5H-15.5Z M3.5,-0.5H15.5V0.5H3.5Z",
   "M-19,-2.8L-16.3,2L-21.7,2Z M0,-2.8L2.7,2L-2.7,2Z M19,-2.8L21.7,2L16.3,2Z M-15,-0.5H-4V0.5H-15Z M4,-0.5H15V0.5H4Z",
   "M-21.5,-2.5H-16.5V2.5H-21.5Z M-20.5,-1.5V1.5H-17.5V-1.5Z M-2.5,-2.5H2.5V2.5H-2.5Z M-1.5,-1.5V1.5H1.5V-1.5Z M16.5,-2.5H21.5V2.5H16.5Z M17.5,-1.5V1.5H20.5V-1.5Z M-15,-0.5H-4V0.5H-15Z M4,-0.5H15V0.5H4Z",
   "M-16.4,0A2.6,2.6,0,1,1,-21.6,0A2.6,2.6,0,1,1,-16.4,0Z M-17.4,0A1.6,1.6,0,1,0,-20.6,0A1.6,1.6,0,1,0,-17.4,0Z M2.6,0A2.6,2.6,0,1,1,-2.6,0A2.6,2.6,0,1,1,2.6,0Z M1.6,0A1.6,1.6,0,1,0,-1.6,0A1.6,1.6,0,1,0,1.6,0Z M21.6,0A2.6,2.6,0,1,1,16.4,0A2.6,2.6,0,1,1,21.6,0Z M20.6,0A1.6,1.6,0,1,0,17.4,0A1.6,1.6,0,1,0,20.6,0Z M-15,-0.5H-4V0.5H-15Z M4,-0.5H15V0.5H4Z"]},
   "legend": {"orient": "none", "legendX": 164, "legendY": 177, "labelOffset": 41, "labelExpr": "'N =\u00a0\u00a0' + (datum.label == '50' ? '\u00a0' : '') + datum.label"}}}},
 {"data": {"values": [{}]}, "mark": {"type": "text", "text": "e.", "align": "left", "baseline": "middle", "font": "Liberation Serif", "fontSize": 15, "fontWeight": "bold"}, "encoding": {"x": {"datum": -2.08}, "y": {"datum": -0.5}}},
 {"data": {"values": [{}]}, "mark": {"type": "text", "text": "π", "align": "left", "baseline": "middle", "font": "Liberation Serif", "fontSize": 17, "fontStyle": "italic"}, "encoding": {"x": {"datum": 1.7}, "y": {"datum": -0.5}}},
 {"data": {"values": [{}]}, "mark": {"type": "text", "text": "S", "align": "left", "baseline": "middle", "font": "Liberation Serif", "fontSize": 11, "fontStyle": "italic", "dx": 11, "dy": -7}, "encoding": {"x": {"datum": 1.7}, "y": {"datum": -0.5}}},
 {"data": {"values": [{}]}, "mark": {"type": "text", "text": "i.", "align": "left", "baseline": "middle", "font": "Liberation Serif", "fontSize": 11, "fontStyle": "italic", "dx": 10, "dy": 7}, "encoding": {"x": {"datum": 1.7}, "y": {"datum": -0.5}}},
 {"data": {"values": [{}]}, "mark": {"type": "text", "text": "= {.05, .05, .30, .30, .30}", "align": "left", "baseline": "middle", "font": "Liberation Serif", "fontSize": 16, "dx": 19}, "encoding": {"x": {"datum": 1.7}, "y": {"datum": -0.5}}}
]}
], "spacing": 23},
{"hconcat": [
{"width": 287, "height": 244, "resolve": {"scale": {"shape": "independent"}}, "layer": [
 {"data": {"values": [{}]}, "mark": {"type": "rule", "color": "#444", "strokeWidth": 1, "strokeDash": [1, 2]}, "encoding": {"x": {"datum": 3, "type": "quantitative", "scale": {"domain": [0.4, 16.6], "nice": false, "zero": false}, "axis": {"title": "K = value of τ₁₂ = τ₄₅", "values": [1,2,3,4,5,6,7,8,9,10,11,12,13,14,15,16], "tickCount": 20, "labelOverlap": false, "titlePadding": 7}}, "y": {"datum": -0.2, "type": "quantitative", "scale": {"domain": [-0.2, 1.04], "nice": false, "zero": false}, "axis": {"title": "Proportion of significant NUA models", "values": [0,0.2,0.4,0.6,0.8,1], "tickCount": 10, "format": "~g", "titlePadding": 10}}, "y2": {"datum": 1.04}}},
 {"data": {"values": [{}]}, "mark": {"type": "rule", "color": "#444", "strokeWidth": 1, "strokeDash": [1, 2]}, "encoding": {"y": {"datum": 0.8}, "x": {"datum": 0.4}, "x2": {"datum": 16.6}}},
 {"data": {"values": [{}]}, "mark": {"type": "rule", "color": "black", "strokeWidth": 1}, "encoding": {"x": {"datum": 1}, "x2": {"datum": 16}, "y": {"datum": -0.2}}},
 {"data": {"values": [{}]}, "mark": {"type": "rule", "color": "black", "strokeWidth": 1}, "encoding": {"x": {"datum": 0.4}, "y": {"datum": 0}, "y2": {"datum": 1}}},
 {"data": {"values": [{}]}, "mark": {"type": "text", "text": "τ₂₃ = τ₃₄ = 3", "align": "left", "baseline": "middle", "fontSize": 10}, "encoding": {"x": {"datum": 3.85}, "y": {"datum": 0.95}}},
 {"data": {"name": "d"}, "transform": [{"filter": "datum.g == 'c'"}], "mark": {"type": "line", "color": "black", "strokeWidth": 1.2}, "encoding": {"x": {"field": "K", "type": "quantitative"}, "y": {"field": "p", "type": "quantitative"}, "detail": {"field": "N", "type": "nominal"}}},
 {"data": {"name": "d"}, "transform": [{"filter": "datum.g == 'c'"}], "mark": {"type": "point", "filled": true, "size": 4, "stroke": "black", "strokeWidth": 1, "opacity": 1}, "encoding": {"x": {"field": "K", "type": "quantitative"}, "y": {"field": "p", "type": "quantitative"}, "shape": {"field": "N", "type": "nominal", "legend": null, "scale": {"domain": [250,200,150,100,50], "range": ["M-2.3,-2.3H2.3V2.3H-2.3Z", "M1.9,0A1.9,1.9,0,1,1,-1.9,0A1.9,1.9,0,1,1,1.9,0Z", "M0,-2.9L2.7,1.9L-2.7,1.9Z", "M-2.3,-2.3H2.3V2.3H-2.3Z", "M2.4,0A2.4,2.4,0,1,1,-2.4,0A2.4,2.4,0,1,1,2.4,0Z"]}}, "fill": {"field": "N", "type": "nominal", "legend": null, "scale": {"domain": [250,200,150,100,50], "range": ["black","black","black","white","white"]}}}},
 {"data": {"name": "d"}, "transform": [{"filter": "false"}], "mark": {"type": "point", "filled": true, "size": 4, "color": "black", "strokeWidth": 0, "opacity": 1}, "encoding": {"x": {"field": "K", "type": "quantitative"}, "y": {"field": "p", "type": "quantitative"}, "shape": {"field": "N", "type": "nominal", "scale": {"domain": [250,200,150,100,50], "range": [
   "M-21.5,-2.5H-16.5V2.5H-21.5Z M-2.5,-2.5H2.5V2.5H-2.5Z M16.5,-2.5H21.5V2.5H16.5Z M-15,-0.5H-4V0.5H-15Z M4,-0.5H15V0.5H4Z",
   "M-17,0A2,2,0,1,1,-21,0A2,2,0,1,1,-17,0Z M2,0A2,2,0,1,1,-2,0A2,2,0,1,1,2,0Z M21,0A2,2,0,1,1,17,0A2,2,0,1,1,21,0Z M-15.5,-0.5H-3.5V0.5H-15.5Z M3.5,-0.5H15.5V0.5H3.5Z",
   "M-19,-2.8L-16.3,2L-21.7,2Z M0,-2.8L2.7,2L-2.7,2Z M19,-2.8L21.7,2L16.3,2Z M-15,-0.5H-4V0.5H-15Z M4,-0.5H15V0.5H4Z",
   "M-21.5,-2.5H-16.5V2.5H-21.5Z M-20.5,-1.5V1.5H-17.5V-1.5Z M-2.5,-2.5H2.5V2.5H-2.5Z M-1.5,-1.5V1.5H1.5V-1.5Z M16.5,-2.5H21.5V2.5H16.5Z M17.5,-1.5V1.5H20.5V-1.5Z M-15,-0.5H-4V0.5H-15Z M4,-0.5H15V0.5H4Z",
   "M-16.4,0A2.6,2.6,0,1,1,-21.6,0A2.6,2.6,0,1,1,-16.4,0Z M-17.4,0A1.6,1.6,0,1,0,-20.6,0A1.6,1.6,0,1,0,-17.4,0Z M2.6,0A2.6,2.6,0,1,1,-2.6,0A2.6,2.6,0,1,1,2.6,0Z M1.6,0A1.6,1.6,0,1,0,-1.6,0A1.6,1.6,0,1,0,1.6,0Z M21.6,0A2.6,2.6,0,1,1,16.4,0A2.6,2.6,0,1,1,21.6,0Z M20.6,0A1.6,1.6,0,1,0,17.4,0A1.6,1.6,0,1,0,20.6,0Z M-15,-0.5H-4V0.5H-15Z M4,-0.5H15V0.5H4Z"]},
   "legend": {"orient": "none", "legendX": 165, "legendY": 179, "labelOffset": 34, "labelExpr": "'N =\u00a0\u00a0' + (datum.label == '50' ? '\u00a0' : '') + datum.label"}}}},
 {"data": {"values": [{}]}, "mark": {"type": "text", "text": "c.", "align": "left", "baseline": "middle", "font": "Liberation Serif", "fontSize": 15, "fontWeight": "bold"}, "encoding": {"x": {"datum": -1.97}, "y": {"datum": -0.49}}},
 {"data": {"values": [{}]}, "mark": {"type": "text", "text": "π", "align": "left", "baseline": "middle", "font": "Liberation Serif", "fontSize": 17, "fontStyle": "italic"}, "encoding": {"x": {"datum": 0.96}, "y": {"datum": -0.49}}},
 {"data": {"values": [{}]}, "mark": {"type": "text", "text": "S", "align": "left", "baseline": "middle", "font": "Liberation Serif", "fontSize": 11, "fontStyle": "italic", "dx": 11, "dy": -7}, "encoding": {"x": {"datum": 0.96}, "y": {"datum": -0.49}}},
 {"data": {"values": [{}]}, "mark": {"type": "text", "text": "i.", "align": "left", "baseline": "middle", "font": "Liberation Serif", "fontSize": 11, "fontStyle": "italic", "dx": 10, "dy": 7}, "encoding": {"x": {"datum": 0.96}, "y": {"datum": -0.49}}},
 {"data": {"values": [{}]}, "mark": {"type": "text", "text": "= {.20, .20, .20, .20, .20}", "align": "left", "baseline": "middle", "font": "Liberation Serif", "fontSize": 16, "dx": 19}, "encoding": {"x": {"datum": 0.96}, "y": {"datum": -0.49}}}
]},
{"width": 287, "height": 244, "resolve": {"scale": {"shape": "independent"}}, "layer": [
 {"data": {"values": [{}]}, "mark": {"type": "rule", "color": "#444", "strokeWidth": 1, "strokeDash": [1, 2]}, "encoding": {"x": {"datum": 3, "type": "quantitative", "scale": {"domain": [0.4, 16.6], "nice": false, "zero": false}, "axis": {"title": "K = value of τ₁₂ = τ₄₅", "values": [1,2,3,4,5,6,7,8,9,10,11,12,13,14,15,16], "tickCount": 20, "labelOverlap": false, "titlePadding": 7}}, "y": {"datum": -0.2, "type": "quantitative", "scale": {"domain": [-0.2, 1.04], "nice": false, "zero": false}, "axis": {"title": "Proportion of significant NUA models", "values": [0,0.2,0.4,0.6,0.8,1], "tickCount": 10, "format": "~g", "titlePadding": 12}}, "y2": {"datum": 1.04}}},
 {"data": {"values": [{}]}, "mark": {"type": "rule", "color": "#444", "strokeWidth": 1, "strokeDash": [1, 2]}, "encoding": {"y": {"datum": 0.8}, "x": {"datum": 0.4}, "x2": {"datum": 16.6}}},
 {"data": {"values": [{}]}, "mark": {"type": "rule", "color": "black", "strokeWidth": 1}, "encoding": {"x": {"datum": 1}, "x2": {"datum": 16}, "y": {"datum": -0.2}}},
 {"data": {"values": [{}]}, "mark": {"type": "rule", "color": "black", "strokeWidth": 1}, "encoding": {"x": {"datum": 0.4}, "y": {"datum": 0}, "y2": {"datum": 1}}},
 {"data": {"values": [{}]}, "mark": {"type": "text", "text": "τ₂₃ = τ₃₄ = 3", "align": "left", "baseline": "middle", "fontSize": 10}, "encoding": {"x": {"datum": 4.07}, "y": {"datum": 0.94}}},
 {"data": {"name": "d"}, "transform": [{"filter": "datum.g == 'f'"}], "mark": {"type": "line", "color": "black", "strokeWidth": 1.2}, "encoding": {"x": {"field": "K", "type": "quantitative"}, "y": {"field": "p", "type": "quantitative"}, "detail": {"field": "N", "type": "nominal"}}},
 {"data": {"name": "d"}, "transform": [{"filter": "datum.g == 'f'"}], "mark": {"type": "point", "filled": true, "size": 4, "stroke": "black", "strokeWidth": 1, "opacity": 1}, "encoding": {"x": {"field": "K", "type": "quantitative"}, "y": {"field": "p", "type": "quantitative"}, "shape": {"field": "N", "type": "nominal", "legend": null, "scale": {"domain": [250,200,150,100,50], "range": ["M-2.3,-2.3H2.3V2.3H-2.3Z", "M1.9,0A1.9,1.9,0,1,1,-1.9,0A1.9,1.9,0,1,1,1.9,0Z", "M0,-2.9L2.7,1.9L-2.7,1.9Z", "M-2.3,-2.3H2.3V2.3H-2.3Z", "M2.4,0A2.4,2.4,0,1,1,-2.4,0A2.4,2.4,0,1,1,2.4,0Z"]}}, "fill": {"field": "N", "type": "nominal", "legend": null, "scale": {"domain": [250,200,150,100,50], "range": ["black","black","black","white","white"]}}}},
 {"data": {"name": "d"}, "transform": [{"filter": "false"}], "mark": {"type": "point", "filled": true, "size": 4, "color": "black", "strokeWidth": 0, "opacity": 1}, "encoding": {"x": {"field": "K", "type": "quantitative"}, "y": {"field": "p", "type": "quantitative"}, "shape": {"field": "N", "type": "nominal", "scale": {"domain": [250,200,150,100,50], "range": [
   "M-21.5,-2.5H-16.5V2.5H-21.5Z M-2.5,-2.5H2.5V2.5H-2.5Z M16.5,-2.5H21.5V2.5H16.5Z M-15,-0.5H-4V0.5H-15Z M4,-0.5H15V0.5H4Z",
   "M-17,0A2,2,0,1,1,-21,0A2,2,0,1,1,-17,0Z M2,0A2,2,0,1,1,-2,0A2,2,0,1,1,2,0Z M21,0A2,2,0,1,1,17,0A2,2,0,1,1,21,0Z M-15.5,-0.5H-3.5V0.5H-15.5Z M3.5,-0.5H15.5V0.5H3.5Z",
   "M-19,-2.8L-16.3,2L-21.7,2Z M0,-2.8L2.7,2L-2.7,2Z M19,-2.8L21.7,2L16.3,2Z M-15,-0.5H-4V0.5H-15Z M4,-0.5H15V0.5H4Z",
   "M-21.5,-2.5H-16.5V2.5H-21.5Z M-20.5,-1.5V1.5H-17.5V-1.5Z M-2.5,-2.5H2.5V2.5H-2.5Z M-1.5,-1.5V1.5H1.5V-1.5Z M16.5,-2.5H21.5V2.5H16.5Z M17.5,-1.5V1.5H20.5V-1.5Z M-15,-0.5H-4V0.5H-15Z M4,-0.5H15V0.5H4Z",
   "M-16.4,0A2.6,2.6,0,1,1,-21.6,0A2.6,2.6,0,1,1,-16.4,0Z M-17.4,0A1.6,1.6,0,1,0,-20.6,0A1.6,1.6,0,1,0,-17.4,0Z M2.6,0A2.6,2.6,0,1,1,-2.6,0A2.6,2.6,0,1,1,2.6,0Z M1.6,0A1.6,1.6,0,1,0,-1.6,0A1.6,1.6,0,1,0,1.6,0Z M21.6,0A2.6,2.6,0,1,1,16.4,0A2.6,2.6,0,1,1,21.6,0Z M20.6,0A1.6,1.6,0,1,0,17.4,0A1.6,1.6,0,1,0,20.6,0Z M-15,-0.5H-4V0.5H-15Z M4,-0.5H15V0.5H4Z"]},
   "legend": {"orient": "none", "legendX": 164, "legendY": 180, "labelOffset": 41, "labelExpr": "'N =\u00a0\u00a0' + (datum.label == '50' ? '\u00a0' : '') + datum.label"}}}},
 {"data": {"values": [{}]}, "mark": {"type": "text", "text": "f.", "align": "left", "baseline": "middle", "font": "Liberation Serif", "fontSize": 15, "fontWeight": "bold"}, "encoding": {"x": {"datum": -2.36}, "y": {"datum": -0.49}}},
 {"data": {"values": [{}]}, "mark": {"type": "text", "text": "π", "align": "left", "baseline": "middle", "font": "Liberation Serif", "fontSize": 17, "fontStyle": "italic"}, "encoding": {"x": {"datum": 1.31}, "y": {"datum": -0.49}}},
 {"data": {"values": [{}]}, "mark": {"type": "text", "text": "S", "align": "left", "baseline": "middle", "font": "Liberation Serif", "fontSize": 11, "fontStyle": "italic", "dx": 11, "dy": -7}, "encoding": {"x": {"datum": 1.31}, "y": {"datum": -0.49}}},
 {"data": {"values": [{}]}, "mark": {"type": "text", "text": "i.", "align": "left", "baseline": "middle", "font": "Liberation Serif", "fontSize": 11, "fontStyle": "italic", "dx": 10, "dy": 7}, "encoding": {"x": {"datum": 1.31}, "y": {"datum": -0.49}}},
 {"data": {"values": [{}]}, "mark": {"type": "text", "text": "= {.05, .30, .30, .30, .05}", "align": "left", "baseline": "middle", "font": "Liberation Serif", "fontSize": 16, "dx": 19}, "encoding": {"x": {"datum": 1.31}, "y": {"datum": -0.49}}}
]}
], "spacing": 18}
]}
]
}
